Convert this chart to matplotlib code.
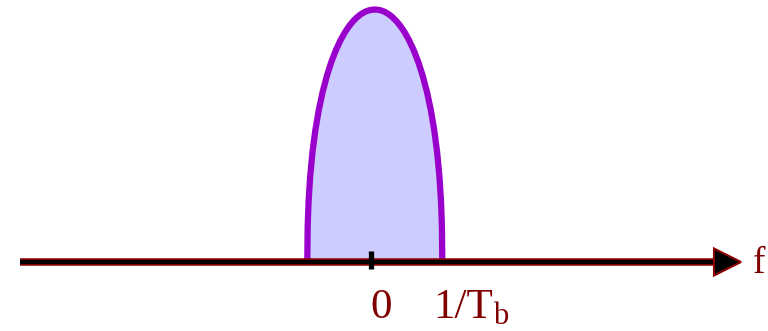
import numpy as np
import matplotlib
matplotlib.use("Agg")
import matplotlib.pyplot as plt
import matplotlib.patheffects as pe
from matplotlib.patches import Polygon

lobe_heights = [252.5, 252, 251, 250, 248, 245, 241, 236, 230, 222, 212, 200, 186,
                170, 152, 132, 110, 85, 60, 35, 0]
lobe_halfw   = [0, 4.55, 7.87, 10.15, 13.59, 17.47, 21.52, 25.61, 29.67, 34.17, 38.84,
                43.48, 47.96, 52.17, 56.02, 59.42, 62.31, 64.68, 66.25, 67.14, 67.5]
lobe_center = 3.8

tick_labels = ["0", "1/T"]
tick_label_sub = "b"
axis_label = "f"

TXT = "#800000"
EDGE = "#8B0000"

fig = plt.figure(figsize=(7.68, 3.31), dpi=100)
ax = fig.add_axes([0, 0, 1, 1])
ax.set_xlim(-371, 397)
ax.set_ylim(-69, 262)
ax.axis('off')

# lobe
h = np.array(lobe_heights, float)
w = np.array(lobe_halfw, float)
xs = np.concatenate([lobe_center - w[::-1], lobe_center + w[1:]])
ys = np.concatenate([h[::-1], h[1:]])
ax.add_patch(Polygon(np.column_stack([xs, ys]), closed=False, facecolor="#CCCCFF",
                     edgecolor="none", zorder=1))
ax.plot(xs, ys, color="#9900CC", lw=4.5, solid_joinstyle='round', solid_capstyle='butt', zorder=2)

# axis line
ax.plot([-351, 346], [0, 0], color="black", lw=3.0, solid_capstyle='butt', zorder=3,
        path_effects=[pe.Stroke(linewidth=5.4, foreground=EDGE), pe.Normal()])
# arrow head
ax.add_patch(Polygon([[343, 13.5], [370, 0], [343, -13.5]], closed=True,
                     facecolor="black", edgecolor=EDGE, lw=1.5, zorder=4))
# tick at 0
ax.plot([0, 0], [11, -7], color="black", lw=3.8, solid_capstyle='butt', zorder=5)

ax.text(10, -56, tick_labels[0], ha='center', va='baseline', color=TXT,
        fontsize=31, family='Liberation Serif')
ax.text(62, -56, tick_labels[1], ha='left', va='baseline', color=TXT,
        fontsize=31, family='Liberation Serif')
ax.text(122, -62, tick_label_sub, ha='left', va='baseline', color=TXT,
        fontsize=22, family='Liberation Serif')
ax.text(382, -11, axis_label, ha='left', va='baseline', color=TXT,
        fontsize=27, family='Liberation Serif')

fig.savefig("out.png", dpi=100)
